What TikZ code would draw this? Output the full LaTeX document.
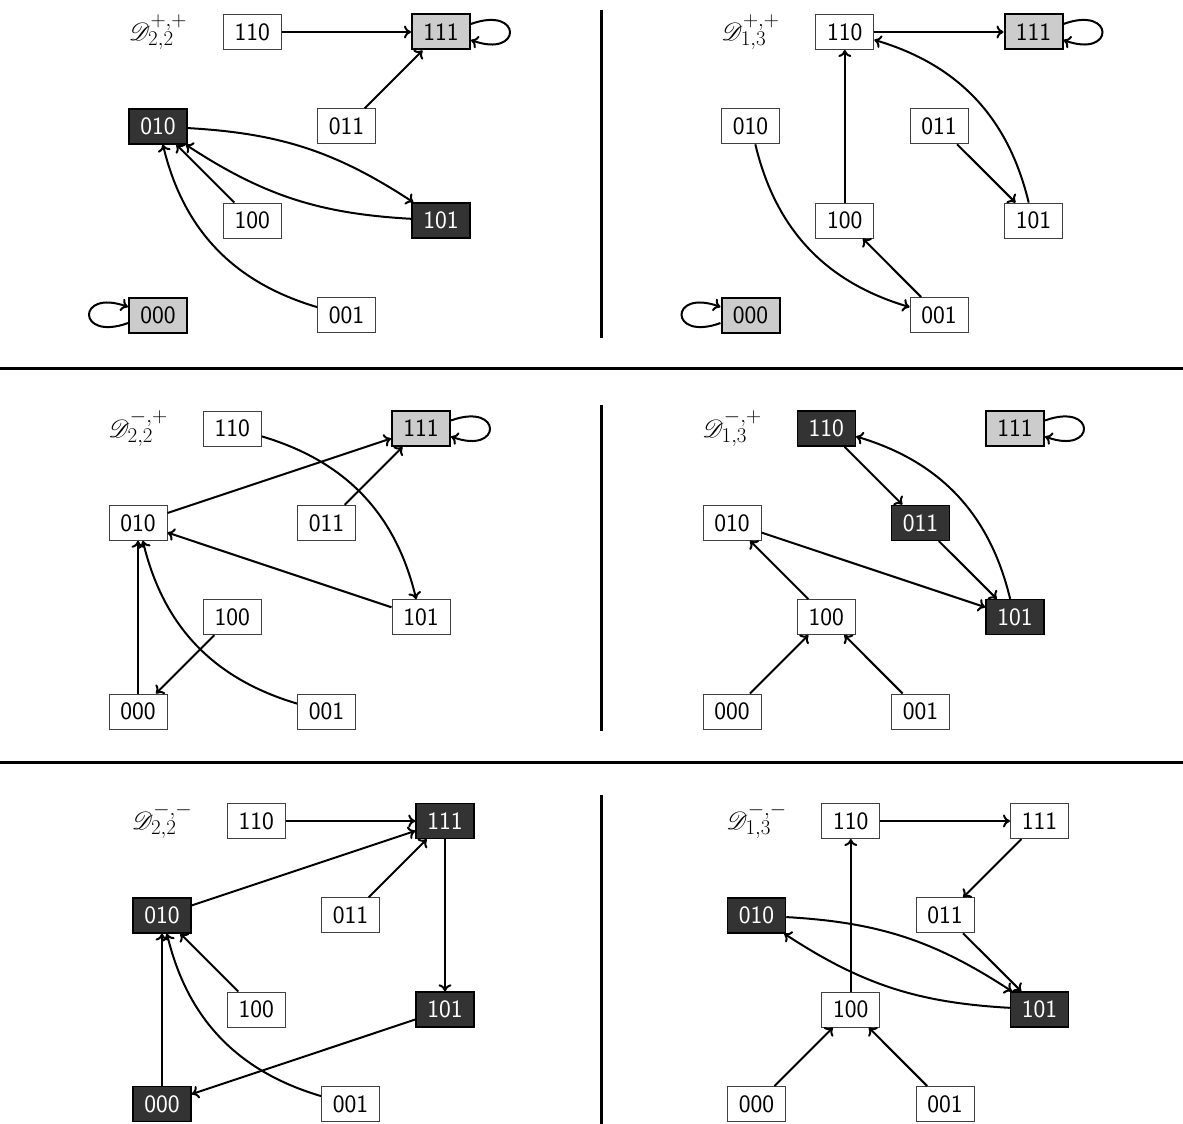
\RequirePackage{fix-cm}
\documentclass[tikz,border=0pt]{standalone}
\usepackage{mathrsfs}
\usetikzlibrary{arrows.meta}
\tikzset{
  st/.style={rectangle, minimum width=58pt, minimum height=35pt, inner sep=0pt,
    font=\fontsize{25}{30}\selectfont\sffamily},
  wt/.style={st, draw=black!75, line width=1pt, fill=white},
  fx/.style={st, draw=black, line width=2pt, fill=black!20},
  dk/.style={st, draw=black, line width=1.5pt, fill=black!80, text=white},
  lab/.style={font=\fontsize{30}{36}\selectfont, inner sep=0pt},
  arr/.style={-{To[length=7pt,width=13pt]}, line width=2pt},
  sep/.style={line width=3pt},
}
\newcommand\cubenodes[9]{%
  \node[#2] (#1110) at (94.3,0) {110};
  \node[#3] (#1111) at (283,0) {111};
  \node[#4] (#1010) at (0,94.3) {010};
  \node[#5] (#1011) at (188.6,94.3) {011};
  \node[#6] (#1100) at (94.3,188.6) {100};
  \node[#7] (#1101) at (283,188.6) {101};
  \node[#8] (#1000) at (0,283) {000};
  \node[#9] (#1001) at (188.6,283) {001};}
\newcommand\rloop[1]{\draw[arr] (#1.15) .. controls +(-20:55) and +(20:55) .. (#1.-15);}
\newcommand\lloop[1]{\draw[arr] (#1.195) .. controls +(160:55) and +(200:55) .. (#1.165);}
\begin{document}
\begin{tikzpicture}[x=1pt,y=-1pt]
\useasboundingbox (0,0) rectangle (1183,1124);
% separators
\draw[sep] (0,368) -- (1183,368);
\draw[sep] (0,762) -- (1183,762);
\draw[sep] (601,10) -- (601,338);
\draw[sep] (601,405) -- (601,731);
\draw[sep] (601,795) -- (601,1124);

% Panel 1
\begin{scope}[shift={(158,32)}]
  \node[lab] (alab) at (0,0) {$\mathscr{D}^{+,+}_{2,2}$};
  \cubenodes{a}{wt}{fx}{dk}{wt}{wt}{dk}{fx}{wt}
  \draw[arr] (a110) -- (a111);
  \draw[arr] (a011) -- (a111);
  \rloop{a111}
  \draw[arr] (a010) to[bend left=15] (a101);
  \draw[arr] (a101) to[bend left=15] (a010);
  \draw[arr] (a100) -- (a010);
  \draw[arr] (a001) to[bend left=30] (a010);
  \lloop{a000}
\end{scope}

% Panel 2
\begin{scope}[shift={(750.5,32)}]
  \node[lab] (blab) at (0,0) {$\mathscr{D}^{+,+}_{1,3}$};
  \cubenodes{b}{wt}{fx}{wt}{wt}{wt}{wt}{fx}{wt}
  \draw[arr] (b110) -- (b111);
  \rloop{b111}
  \draw[arr] (b100) -- (b110);
  \draw[arr] (b101) to[bend right=30] (b110);
  \draw[arr] (b011) -- (b101);
  \draw[arr] (b010) to[bend right=30] (b001);
  \draw[arr] (b001) -- (b100);
  \lloop{b000}
\end{scope}

% Panel 3
\begin{scope}[shift={(138,428.5)}]
  \node[lab] (clab) at (0,0) {$\mathscr{D}^{-,+}_{2,2}$};
  \cubenodes{c}{wt}{fx}{wt}{wt}{wt}{wt}{wt}{wt}
  \draw[arr] (c010) -- (c111);
  \draw[arr] (c011) -- (c111);
  \rloop{c111}
  \draw[arr] (c110) to[bend left=30] (c101);
  \draw[arr] (c101) -- (c010);
  \draw[arr] (c100) -- (c000);
  \draw[arr] (c000) -- (c010);
  \draw[arr] (c001) to[bend left=30] (c010);
\end{scope}

% Panel 4
\begin{scope}[shift={(732,428.5)}]
  \node[lab] (dlab) at (0,0) {$\mathscr{D}^{-,+}_{1,3}$};
  \cubenodes{d}{dk}{fx}{wt}{dk}{wt}{dk}{wt}{wt}
  \draw[arr] (d110) -- (d011);
  \draw[arr] (d011) -- (d101);
  \draw[arr] (d101) to[bend right=30] (d110);
  \draw[arr] (d010) -- (d101);
  \draw[arr] (d100) -- (d010);
  \draw[arr] (d000) -- (d100);
  \draw[arr] (d001) -- (d100);
  \rloop{d111}
\end{scope}

% Panel 5
\begin{scope}[shift={(162,821)}]
  \node[lab] (elab) at (0,0) {$\mathscr{D}^{-,-}_{2,2}$};
  \cubenodes{e}{wt}{dk}{dk}{wt}{wt}{dk}{dk}{wt}
  \draw[arr] (e110) -- (e111);
  \draw[arr] (e010) -- (e111);
  \draw[arr] (e011) -- (e111);
  \draw[arr] (e111) -- (e101);
  \draw[arr] (e101) -- (e000);
  \draw[arr] (e000) -- (e010);
  \draw[arr] (e100) -- (e010);
  \draw[arr] (e001) to[bend left=30] (e010);
\end{scope}

% Panel 6
\begin{scope}[shift={(756.5,821)}]
  \node[lab] (flab) at (0,0) {$\mathscr{D}^{-,-}_{1,3}$};
  \cubenodes{f}{wt}{wt}{dk}{wt}{wt}{dk}{wt}{wt}
  \draw[arr] (f110) -- (f111);
  \draw[arr] (f111) -- (f011);
  \draw[arr] (f011) -- (f101);
  \draw[arr] (f100) -- (f110);
  \draw[arr] (f010) to[bend left=15] (f101);
  \draw[arr] (f101) to[bend left=15] (f010);
  \draw[arr] (f000) -- (f100);
  \draw[arr] (f001) -- (f100);
\end{scope}
\end{tikzpicture}
\end{document}
